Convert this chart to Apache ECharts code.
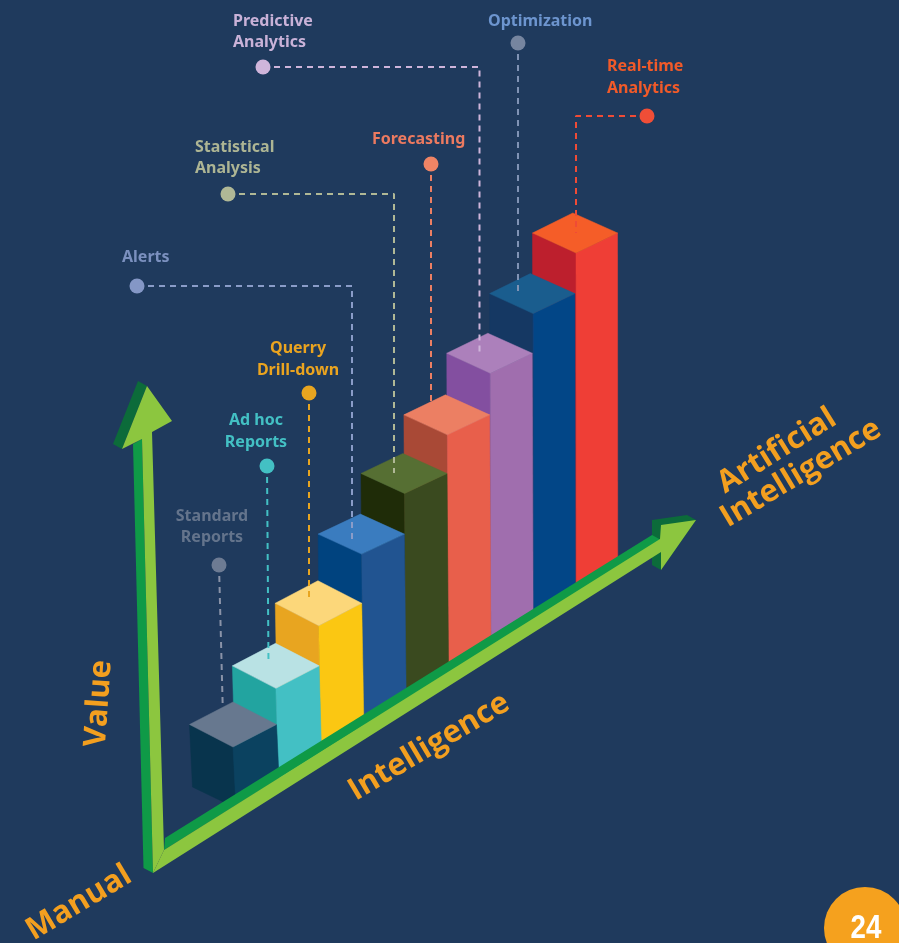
<!DOCTYPE html>
<html>
<head>
<meta charset="utf-8">
<style>html,body{margin:0;padding:0;background:#1f3a5d}#chart{width:899px;height:943px}</style>
<script src="https://cdn.jsdelivr.net/npm/echarts@6/dist/echarts.min.js"></script>
</head>
<body>
<div id="chart"></div>
<script>
// Analytics maturity staircase, from standard reports to real-time analytics
const categories = ['Standard Reports','Ad hoc Reports','Querry Drill-down','Alerts','Statistical Analysis','Forecasting','Predictive Analytics','Optimization','Real-time Analytics'];
const barValues = [61, 93, 129, 174, 208, 240, 275, 308, 342];

// Face colours per bar: lid, left wall, right wall
const lidColors   = ['#67788f','#b9e2e4','#fcd77a','#3a7cbf','#566f33','#ec7f63','#ac80bb','#1a5d8e','#f55d28'];
const leftColors  = ['#08344d','#22a4a0','#e8a520','#00437f','#1f2c08','#a94936','#834fa0','#153863','#bd1f2d'];
const rightColors = ['#0b4260','#43c0c4','#fbc712','#215491','#3a4a1f','#e85f4b','#a06eae','#024687','#ef3e36'];

// Isometric look of the bars
const FLOOR_SLOPE = 0.621, LEFT_W = 43.5, SIDE_DROP = 21;

// Callouts: title, text colour, text anchor, dot colour, dashed route starting at the dot
const calloutTitles = ['Standard\nReports','Ad hoc\nReports','Querry\nDrill-down','Alerts','Statistical\nAnalysis','Forecasting','Predictive\nAnalytics','Optimization','Real-time\nAnalytics'];
const calloutInk    = ['#64748c','#43c0c4','#eba41f','#7b90bf','#adb594','#ec7a60','#c9b2d8','#6d95cf','#f15a29'];
const calloutAlign  = ['center','center','center','left','left','left','left','left','left'];
const calloutAnchor = [[212,527],[256,431.5],[298,359.5],[122,257],[195,158],[372,139],[233,32],[488,21],[607,77.5]];
const dotColors     = ['#6d7b93','#43c0c4','#e8a520','#8497c6','#b0b896','#ef8465','#cfb5db','#76859f','#f04e37'];
const routeColors   = ['#8a93a8','#43c0c4','#e8a520','#8a9cc8','#b0b896','#ec7f63','#cfb5db','#8093b5','#ef4b36'];
const leaderRoutes  = [
  [[219,565],[222.7,706]],
  [[267,466],[268.5,664]],
  [[309,393],[309,602]],
  [[137,286],[352,286],[352,539]],
  [[228,194],[394,194],[394,473]],
  [[431,164],[431,402]],
  [[263,67],[479.5,67],[479.5,352]],
  [[518,43],[518,296]],
  [[647,116],[576,116],[576,233]]
];

// Axis arrows, each a flat polygon
const arrowFaces = [
  { fill:'#0c6b3a', points:[[113,444],[138,381],[147,386],[122,449]] },
  { fill:'#0f9a47', points:[[133,444],[142,439],[153,873],[143.5,868]] },
  { fill:'#8cc63f', points:[[147,386],[172,421],[152,432],[164,850],[153,873],[142,439],[122,449]] },
  { fill:'#0c6b3a', points:[[652,520],[687,515],[696,520],[661,570],[652,565]] },
  { fill:'#0f9a47', points:[[165,838],[652,535],[661,540],[164,850]] },
  { fill:'#8cc63f', points:[[153,873],[164,850],[660,539],[661,525],[696,520],[661,570],[661,552]] }
];

// Axis captions: text, x, y, rotation in degrees
const axisCaptions = [
  ['Value', 99, 703.5, 86],
  ['Intelligence', 429, 747, 30.8],
  ['Manual', 79, 903, 31],
  ['Artificial', 777, 451, 32],
  ['Intelligence', 801, 473.5, 31]
];

const BG = '#1f3a5d';
const chart = echarts.init(document.getElementById('chart'), null, { renderer: 'canvas' });

function renderBar(params, api) {
  const i = api.value(0);
  const base = api.coord([i, 0]);
  const top = api.coord([i, api.value(1)]);
  const rise = FLOOR_SLOPE * (base[0] - api.coord([0, 0])[0]);
  const lean = 3 - i * 0.35;
  const x = base[0];
  const yTop = top[1] - rise;
  const yFoot = base[1] - rise;
  // Lids on the nearer bars are drawn slightly deeper, right walls narrow along the row
  const drop = i < 3 ? 22.5 : 20;
  const rightW = 43.5 - i * 0.25;
  const backX = x - i * 0.4;
  const edge = c => ({ fill: c, stroke: c, lineWidth: 0.5 });
  return {
    type: 'group',
    children: [
      { type:'polygon', shape:{points:[[x-LEFT_W,yTop-drop],[x,yTop],[x+lean,yFoot],[x-LEFT_W+lean,yFoot-SIDE_DROP]]}, style:edge(leftColors[i]) },
      { type:'polygon', shape:{points:[[x,yTop],[x+rightW,yTop-drop],[x+rightW+lean,yFoot-SIDE_DROP],[x+lean,yFoot]]}, style:edge(rightColors[i]) },
      { type:'polygon', shape:{points:[[x,yTop],[x-LEFT_W,yTop-drop],[backX,yTop-drop*2],[x+rightW,yTop-drop]]}, style:edge(lidColors[i]) }
    ]
  };
}

function renderFace(params, api) {
  const face = arrowFaces[params.dataIndex];
  return { type:'polygon', shape:{ points: face.points.map(p => api.coord(p)) }, style:{ fill: face.fill } };
}

const CALLOUT_FONT = '"Noto Sans","Open Sans",sans-serif';
const DISPLAY_FONT = '"Open Sans","Noto Sans",sans-serif';

const option = {
  backgroundColor: BG,
  animation: false,
  grid: [
    // Bars: one band per category, 808 on the pixel scale is the foot of the first bar
    { left: 211.56, width: 385.9, top: 0, height: 808 },
    // Annotation layer spanning the whole page
    { left: 0, top: 0, width: 899, height: 943 }
  ],
  xAxis: [
    { gridIndex: 0, type: 'category', data: categories, show: false },
    { gridIndex: 1, type: 'value', min: 0, max: 899, show: false }
  ],
  yAxis: [
    { gridIndex: 0, type: 'value', min: 0, max: 808, show: false },
    { gridIndex: 1, type: 'value', min: 0, max: 943, inverse: true, show: false }
  ],
  series: [
    {
      // Far bars first so that each nearer bar overlaps the one behind it
      type: 'custom', name: 'Analytics', xAxisIndex: 0, yAxisIndex: 0, z: 2, clip: false,
      renderItem: renderBar,
      encode: { x: 0, y: 1 },
      data: barValues.map((v, i) => [i, v]).reverse()
    },
    {
      type: 'custom', name: 'Arrows', xAxisIndex: 1, yAxisIndex: 1, z: 3, clip: false,
      renderItem: renderFace,
      data: arrowFaces.map((f, i) => [i])
    },
    ...leaderRoutes.map((route, i) => ({
      type: 'line', xAxisIndex: 1, yAxisIndex: 1, z: 4, silent: true,
      symbol: 'none', data: route,
      lineStyle: { color: routeColors[i], width: 2, type: [6, 5] }
    })),
    {
      type: 'scatter', xAxisIndex: 1, yAxisIndex: 1, z: 5, symbolSize: 15, silent: true,
      data: leaderRoutes.map((route, i) => ({ value: route[0], itemStyle: { color: dotColors[i], opacity: 1 } }))
    },
    {
      type: 'custom', name: 'Callouts', xAxisIndex: 1, yAxisIndex: 1, z: 6, clip: false,
      renderItem: (params, api) => {
        const i = params.dataIndex;
        const p = api.coord(calloutAnchor[i]);
        return { type:'text', x:p[0], y:p[1], style:{
          text: calloutTitles[i], fill: calloutInk[i], align: calloutAlign[i], verticalAlign: 'middle',
          font: '700 16px ' + CALLOUT_FONT, lineHeight: 21.5 } };
      },
      data: calloutTitles.map((t, i) => [i])
    },
    {
      type: 'custom', name: 'Captions', xAxisIndex: 1, yAxisIndex: 1, z: 6, clip: false,
      renderItem: (params, api) => {
        const c = axisCaptions[params.dataIndex];
        const p = api.coord([c[1], c[2]]);
        return { type:'text', x:p[0], y:p[1], rotation: c[3] * Math.PI / 180, style:{
          text: c[0], fill: '#f39f1f', align: 'center', verticalAlign: 'middle',
          font: '700 31px ' + DISPLAY_FONT } };
      },
      data: axisCaptions.map((c, i) => [i])
    }
  ],
  graphic: [
    // Page number badge, cut off by the page corner
    { type:'circle', z: 10, shape:{ cx:865, cy:928, r:41 }, style:{ fill:'#f5a11e' } },
    { type:'text', z: 11, x:866, y:929, scaleX:0.84, style:{
        text:'24', fill:'#ffffff', align:'center', verticalAlign:'middle',
        font:'700 33px "Liberation Sans Narrow","Liberation Sans",sans-serif' } }
  ]
};
chart.setOption(option);
</script>
</body>
</html>
